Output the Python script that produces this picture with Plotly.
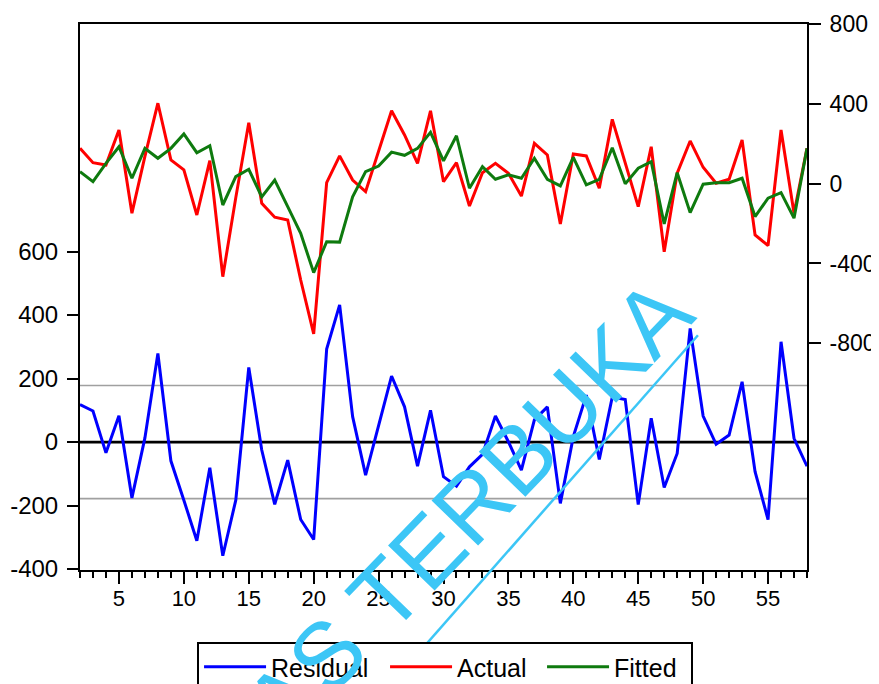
import plotly.graph_objects as go

obs = list(range(2, 59))

residual = [118, 98, -34, 83, -176, 13, 279, -59, -183, -311, -81, -358, -183, 235, -25,
            -196, -57, -244, -307, 293, 432, 80, -104, 53, 208, 111, -76, 100, -109, -139,
            -78, -39, 82, 1, -88, 70, 111, -193, 17, 148, -55, 142, 134, -197, 75,
            -143, -36, 358, 82, -7, 22, 190, -93, -244, 316, 12, -76]

actual = [177, 105, 93, 269, -148, 137, 403, 119, 69, -157, 115, -466, -70, 305, -98,
          -168, -182, -483, -753, 5, 139, 18, -40, 162, 365, 244, 102, 365, 10, 105,
          -112, 55, 102, 52, -62, 202, 144, -202, 149, 139, -23, 322, 102, -115, 185,
          -341, 52, 214, 82, 2, 22, 219, -257, -310, 269, -148, 177]

fitted = [60, 10, 102, 185, 27, 177, 127, 177, 249, 155, 190, -107, 35, 72, -66,
          18, -115, -249, -446, -291, -293, -66, 60, 88, 158, 142, 177, 257, 114, 240,
          -23, 85, 22, 44, 27, 127, 22, -11, 132, -6, 22, 180, -1, 77, 110,
          -202, 55, -145, -3, 5, 5, 27, -165, -73, -45, -173, 177]

sd_band = 178
x_ticks = [5, 10, 15, 20, 25, 30, 35, 40, 45, 50, 55]
left_ticks = [-400, -200, 0, 200, 400, 600]
left_labels = ["-400", "-200", "0", "200", "400", "600"]
right_ticks = [-800, -400, 0, 400, 800]
right_labels = ["-800", "-400", "0", "400", "800"]

FONT = "Liberation Sans, Arial, sans-serif"
WM = "#3CC6F6"

fig = go.Figure()
fig.add_trace(go.Scatter(x=obs, y=residual, mode="lines", name="Residual",
                         line=dict(color="#0000FF", width=3), yaxis="y",
                         legendwidth=109))
fig.add_trace(go.Scatter(x=obs, y=actual, mode="lines", name="Actual",
                         line=dict(color="#FF0000", width=3), yaxis="y2",
                         legendwidth=80))
fig.add_trace(go.Scatter(x=obs, y=fitted, mode="lines", name="Fitted",
                         line=dict(color="#0E7A0E", width=3), yaxis="y2",
                         legendwidth=72))

# reference lines for residual
for v, c, w in [(sd_band, "#A0A0A0", 1.6), (-sd_band, "#A0A0A0", 1.6), (0, "black", 2.8)]:
    fig.add_shape(type="line", xref="paper", x0=0, x1=1, yref="y", y0=v, y1=v,
                  line=dict(color=c, width=w), layer="below")

# watermark
fig.add_annotation(text="UNIVERSITAS TERBUKA", xref="paper", yref="paper",
                   x=0.298, y=-0.213, xanchor="center", yanchor="middle",
                   textangle=-46, showarrow=False,
                   font=dict(family=FONT, size=94, color=WM))
fig.add_shape(type="line", xref="paper", yref="paper", x0=0.428, y0=-0.209,
              x1=0.850, y1=0.430, line=dict(color=WM, width=2.5), layer="above")

fig.update_layout(
    width=871, height=676,
    margin=dict(l=72, r=72, t=16, b=114, autoexpand=False),
    paper_bgcolor="white", plot_bgcolor="white",
    font=dict(family=FONT, color="black"),
    showlegend=True,
    legend=dict(orientation="h", x=0.161, y=-0.132, xanchor="left", yanchor="top",
                bordercolor="black", borderwidth=2, font=dict(size=25, family=FONT),
                bgcolor="white", traceorder="normal", itemwidth=62),
    xaxis=dict(range=[2, 58], tickvals=x_ticks, ticks="outside", ticklen=12,
               tickwidth=1.5, tickcolor="black", showline=True, linewidth=2,
               linecolor="black", mirror=True, showgrid=False, zeroline=False,
               tickfont=dict(size=22), automargin=False, ticklabelstandoff=-4,
               minor=dict(dtick=1, tick0=0, ticks="outside", ticklen=6,
                          tickwidth=1.5, tickcolor="black", showgrid=False)),
    yaxis=dict(range=[-403, 1317], tickvals=left_ticks, ticktext=left_labels,
               ticks="outside", ticklen=11,
               tickwidth=1.5, tickcolor="black", showline=True, linewidth=2,
               linecolor="black", showgrid=False, zeroline=False, automargin=False,
               ticklabelstandoff=4, tickfont=dict(size=24)),
    yaxis2=dict(range=[-1936, 800], tickvals=right_ticks, ticktext=right_labels,
                overlaying="y", side="right",
                ticks="outside", ticklen=12, tickwidth=1.5, tickcolor="black",
                showline=True, linewidth=2, linecolor="black", showgrid=False,
                zeroline=False, automargin=False, ticklabelstandoff=4,
                tickfont=dict(size=23)),
)

fig.write_html("out.html")
